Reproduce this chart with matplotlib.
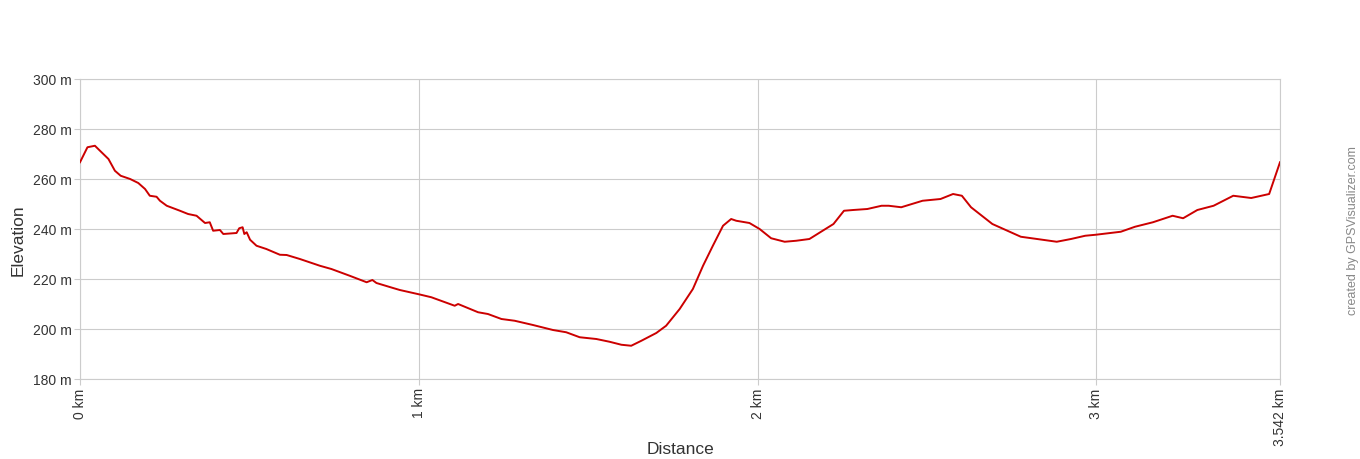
#!/usr/bin/env python3
'''Elevation profile (GPS Visualizer style), saved to out.png.'''

import matplotlib
matplotlib.use('Agg')
from matplotlib import pyplot as plt

# distance along the track (km) and elevation (m)
DISTANCE_KM = [
    0.000, 0.022, 0.044, 0.059, 0.084, 0.103, 0.120, 0.148, 0.172, 0.192,
    0.206, 0.226, 0.236, 0.256, 0.295, 0.319, 0.344, 0.369, 0.383, 0.393,
    0.413, 0.423, 0.462, 0.470, 0.480, 0.485, 0.492, 0.502, 0.521, 0.550,
    0.590, 0.610, 0.649, 0.708, 0.742, 0.796, 0.846, 0.863, 0.875, 0.924,
    0.944, 1.003, 1.037, 1.106, 1.116, 1.175, 1.204, 1.244, 1.283, 1.337,
    1.396, 1.435, 1.475, 1.524, 1.563, 1.598, 1.627, 1.657, 1.701, 1.730,
    1.770, 1.809, 1.839, 1.868, 1.898, 1.922, 1.937, 1.976, 2.006, 2.040,
    2.080, 2.114, 2.153, 2.192, 2.224, 2.255, 2.282, 2.324, 2.366, 2.387,
    2.424, 2.487, 2.540, 2.577, 2.603, 2.630, 2.693, 2.777, 2.825, 2.883,
    2.925, 2.967, 2.998, 3.072, 3.114, 3.167, 3.225, 3.256, 3.298, 3.346,
    3.404, 3.457, 3.510, 3.542,
]
ELEVATION_M = [
    266.7, 272.7, 273.3, 271.3, 268.0, 263.3, 261.3, 260.0, 258.4, 256.0,
    253.3, 252.9, 251.3, 249.3, 247.3, 246.0, 245.3, 242.4, 242.7, 239.3,
    239.6, 238.0, 238.4, 240.3, 240.7, 238.0, 238.7, 235.7, 233.3, 232.0,
    229.7, 229.6, 228.0, 225.3, 224.0, 221.3, 218.7, 219.6, 218.4, 216.4,
    215.6, 213.8, 212.7, 209.3, 210.0, 206.7, 206.0, 204.0, 203.3, 201.6,
    199.6, 198.7, 196.7, 196.0, 194.9, 193.7, 193.3, 195.3, 198.4, 201.3,
    208.0, 216.0, 225.3, 233.3, 241.3, 244.0, 243.3, 242.4, 240.0, 236.3,
    234.9, 235.3, 236.0, 239.3, 242.0, 247.3, 247.6, 248.0, 249.3, 249.3,
    248.7, 251.3, 252.0, 254.0, 253.3, 248.7, 242.0, 236.9, 236.0, 234.9,
    236.0, 237.3, 237.7, 238.9, 240.9, 242.7, 245.3, 244.3, 247.6, 249.3,
    253.3, 252.4, 254.0, 266.7,
]
X_TICKS = [0, 1, 2, 3, 3.542]
X_TICK_LABELS = ['0 km', '1 km', '2 km', '3 km', '3.542 km']
Y_TICKS = [180, 200, 220, 240, 260, 280, 300]
Y_TICK_LABELS = ['%d m' % v for v in Y_TICKS]

GRID_COLOR = '#cccccc'
TEXT_COLOR = '#333333'

plt.rcParams['font.family'] = ['Liberation Sans', 'DejaVu Sans']

fig = plt.figure(figsize=(13.6, 4.6), dpi=100)
ax = fig.add_axes([80 / 1360, 80 / 460, 1200 / 1360, 300 / 460])

ax.plot(DISTANCE_KM, ELEVATION_M, color='#cc0000', linewidth=1.4,
        solid_joinstyle='round', zorder=3)

ax.set_xlim(0, 3.542)
ax.set_ylim(180, 300)
ax.set_xticks(X_TICKS)
ax.set_xticklabels(X_TICK_LABELS, rotation=90, fontsize=10, color=TEXT_COLOR)
ax.set_yticks(Y_TICKS)
ax.set_yticklabels(Y_TICK_LABELS, fontsize=10, color=TEXT_COLOR)
ax.tick_params(length=4, width=0.8, color=GRID_COLOR, pad=2)

ax.grid(True, color=GRID_COLOR, linewidth=0.8, zorder=0)
for spine in ax.spines.values():
    spine.set_color(GRID_COLOR)
    spine.set_linewidth(0.8)

# axis titles placed in figure pixels, as in the reference
fig.text(680 / 1360, 1 - 450 / 460, 'Distance', ha='center', va='center',
         fontsize=12.5, color=TEXT_COLOR)
fig.text(18 / 1360, 1 - 240 / 460, 'Elevation', rotation=90, ha='center',
         va='center', fontsize=12.5, color=TEXT_COLOR)
fig.text(1353 / 1360, 1 - 231 / 460, 'created by GPSVisualizer.com',
         rotation=90, ha='center', va='center', fontsize=9, color='#888888')

fig.savefig('out.png', dpi=100)
